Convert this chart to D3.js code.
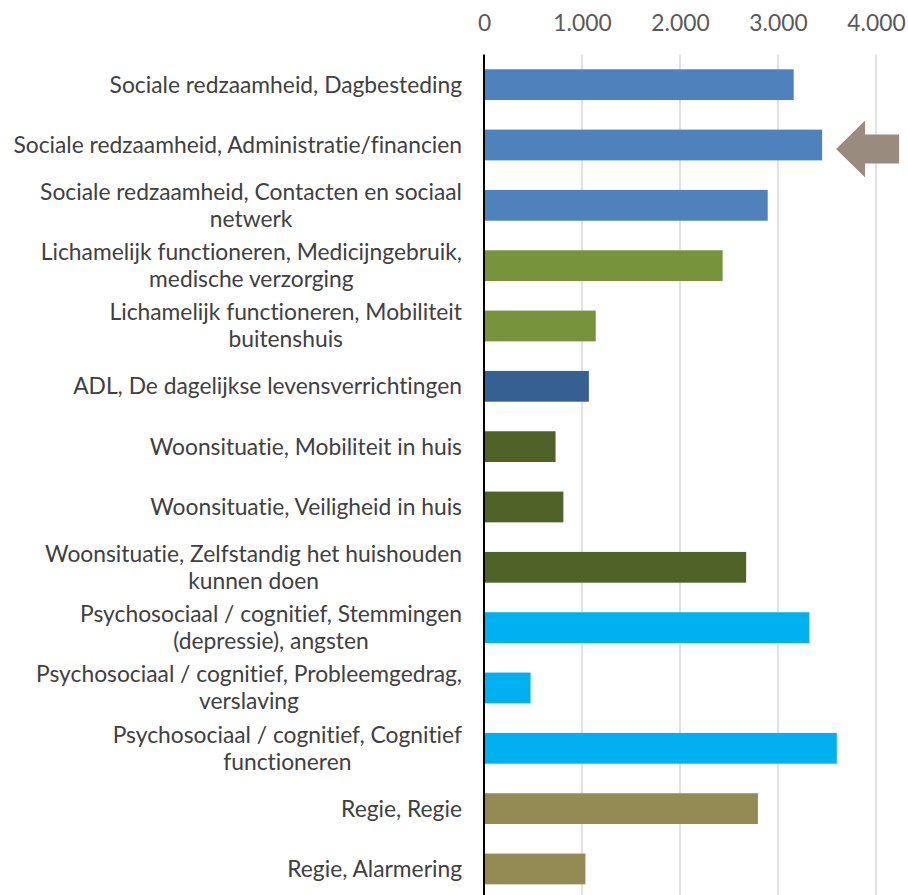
<!DOCTYPE html>
<html>
<head>
<meta charset="utf-8">
<script src="https://cdn.jsdelivr.net/npm/d3@7"></script>
<style>
  html, body { margin: 0; padding: 0; background: #fff; }
  svg { display: block; }
  text { font-variant-ligatures: none; font-feature-settings: "liga" 0, "clig" 0; }
</style>
</head>
<body>
<div id="chart"></div>
<script>
// ---- Data ----
const categories = [
  "Sociale redzaamheid, Dagbesteding",
  "Sociale redzaamheid, Administratie/financien",
  "Sociale redzaamheid, Contacten en sociaal netwerk",
  "Lichamelijk functioneren, Medicijngebruik, medische verzorging",
  "Lichamelijk functioneren, Mobiliteit buitenshuis",
  "ADL, De dagelijkse levensverrichtingen",
  "Woonsituatie, Mobiliteit in huis",
  "Woonsituatie, Veiligheid in huis",
  "Woonsituatie, Zelfstandig het huishouden kunnen doen",
  "Psychosociaal / cognitief, Stemmingen (depressie), angsten",
  "Psychosociaal / cognitief, Probleemgedrag, verslaving",
  "Psychosociaal / cognitief, Cognitief functioneren",
  "Regie, Regie",
  "Regie, Alarmering"
];
// label lines as wrapped in the picture
const labelLines = [
  ["Sociale redzaamheid, Dagbesteding"],
  ["Sociale redzaamheid, Administratie/financien"],
  ["Sociale redzaamheid, Contacten en sociaal", "netwerk"],
  ["Lichamelijk functioneren, Medicijngebruik,", "medische verzorging"],
  ["Lichamelijk functioneren, Mobiliteit", "buitenshuis"],
  ["ADL, De dagelijkse levensverrichtingen"],
  ["Woonsituatie, Mobiliteit in huis"],
  ["Woonsituatie, Veiligheid in huis"],
  ["Woonsituatie, Zelfstandig het huishouden", "kunnen doen"],
  ["Psychosociaal / cognitief, Stemmingen", "(depressie), angsten"],
  ["Psychosociaal / cognitief, Probleemgedrag,", "verslaving"],
  ["Psychosociaal / cognitief, Cognitief", "functioneren"],
  ["Regie, Regie"],
  ["Regie, Alarmering"]
];
const values = [3160, 3450, 2895, 2435, 1140, 1070, 730, 810, 2675, 3320, 475, 3600, 2795, 1035];
const groups = ["Sociale redzaamheid","Sociale redzaamheid","Sociale redzaamheid",
  "Lichamelijk functioneren","Lichamelijk functioneren","ADL",
  "Woonsituatie","Woonsituatie","Woonsituatie",
  "Psychosociaal","Psychosociaal","Psychosociaal","Regie","Regie"];
const groupNames = ["Sociale redzaamheid","Lichamelijk functioneren","ADL","Woonsituatie","Psychosociaal","Regie"];
const groupColors = ["#4F81BD","#77933C","#366092","#4F6228","#00B0F0","#948A54"];
const tickValues = [0, 1000, 2000, 3000, 4000];
const tickLabels = ["0", "1.000", "2.000", "3.000", "4.000"];
const highlightIndex = 1; // arrow points at this bar

// ---- Layout ----
const W = 908, H = 895;
const plotLeft = 484, plotRight = 876, plotTop = 54.5, step = 60.33;
const fontFamily = "Lato, 'Open Sans', sans-serif";

const svg = d3.select("#chart").append("svg").attr("width", W).attr("height", H);

const x = d3.scaleLinear().domain([0, 4000]).range([plotLeft, plotRight]);
const y = d3.scaleBand().domain(categories)
  .range([plotTop, plotTop + step * categories.length])
  .paddingInner(0.49).paddingOuter(0.245);
const color = d3.scaleOrdinal().domain(groupNames).range(groupColors);

// fit font size to reference label width
const probe = svg.append("text").attr("font-family", fontFamily).attr("font-size", 20)
  .text("Sociale redzaamheid, Administratie/financien");
const probeW = probe.node().getComputedTextLength();
probe.remove();
const fs = 20 * 449 / probeW;

// gridlines
svg.append("g").selectAll("line").data(tickValues.slice(1)).join("line")
  .attr("x1", d => x(d)).attr("x2", d => x(d))
  .attr("y1", plotTop).attr("y2", H)
  .attr("stroke", "#D9D9D9").attr("stroke-width", 1.5);

// top axis labels
const xAxis = d3.axisTop(x).tickValues(tickValues).tickFormat((d, i) => tickLabels[i]).tickSize(0).tickPadding(0);
const gx = svg.append("g").attr("transform", `translate(0,${23 + fs * 0.35})`).call(xAxis);
gx.select(".domain").remove();
gx.selectAll("text").attr("font-family", fontFamily).attr("font-size", fs)
  .attr("fill", "#595959").attr("dy", 0);

// bars
svg.append("g").selectAll("rect").data(values).join("rect")
  .attr("x", x(0))
  .attr("y", (d, i) => y(categories[i]))
  .attr("width", d => x(d) - x(0))
  .attr("height", y.bandwidth())
  .attr("fill", (d, i) => color(groups[i]));

// vertical axis line
svg.append("line").attr("x1", x(0)).attr("x2", x(0))
  .attr("y1", plotTop).attr("y2", H)
  .attr("stroke", "#000").attr("stroke-width", 2);

// category labels (block right-aligned, lines centred within block)
const lineH = 27;
const labelRight = 462;
const lg = svg.append("g");
labelLines.forEach((lines, i) => {
  const cy = y(categories[i]) + y.bandwidth() / 2;
  const t = lg.append("text").attr("font-family", fontFamily).attr("font-size", fs)
    .attr("fill", "#404040");
  const n = lines.length;
  const tspans = lines.map((ln, k) =>
    t.append("tspan").attr("y", cy + (k - (n - 1) / 2) * lineH + fs * 0.35).text(ln));
  const widths = tspans.map(ts => ts.node().getComputedTextLength());
  const maxW = d3.max(widths);
  const centre = labelRight - maxW / 2;
  tspans.forEach(ts => ts.attr("x", centre).attr("text-anchor", "middle"));
});

// arrow annotation pointing at highlighted bar
const ay = y(categories[highlightIndex]) + y.bandwidth() / 2 + 4;
const tipX = x(values[highlightIndex]) + 14;
const arrow = [
  [tipX, ay],
  [tipX + 29, ay - 28.5],
  [tipX + 29, ay - 14.5],
  [tipX + 63, ay - 14.5],
  [tipX + 63, ay + 14.5],
  [tipX + 29, ay + 14.5],
  [tipX + 29, ay + 28.5]
];
svg.append("path").attr("d", d3.line()(arrow) + "Z").attr("fill", "#9A8B7F");
</script>
</body>
</html>
